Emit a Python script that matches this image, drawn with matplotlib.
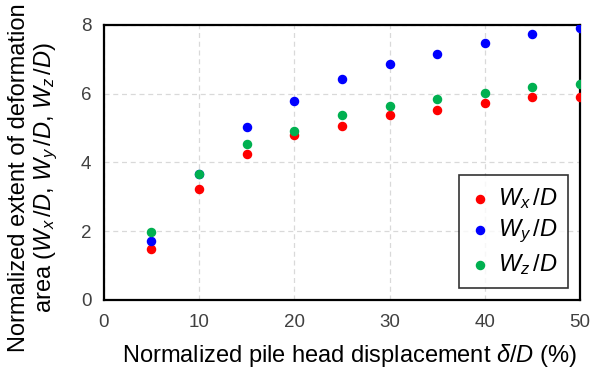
import matplotlib
matplotlib.use('Agg')
import matplotlib.pyplot as plt

plt.rcParams['font.family'] = ['Liberation Sans', 'DejaVu Sans']
plt.rcParams['mathtext.fontset'] = 'custom'
plt.rcParams['mathtext.rm'] = 'Liberation Sans'
plt.rcParams['mathtext.it'] = 'Liberation Sans:italic'

# данные
disp = [5, 10, 15, 20, 25, 30, 35, 40, 45, 50]
wx = [1.47, 3.22, 4.25, 4.80, 5.07, 5.37, 5.52, 5.72, 5.90, 5.90]
wy = [1.72, 3.67, 5.03, 5.78, 6.43, 6.85, 7.15, 7.48, 7.73, 7.90]
wz = [1.96, 3.67, 4.53, 4.91, 5.38, 5.63, 5.83, 6.01, 6.20, 6.28]

fig = plt.figure(figsize=(5.9, 3.72), dpi=100)
ax = fig.add_axes([0.176, 0.194, 0.807, 0.739])

ax.scatter(disp, wx, s=34, color='#FF0000', label='$W_x\\,/D$', zorder=3)
ax.scatter(disp, wy, s=34, color='#0000FF', label='$W_y\\,/D$', zorder=3)
ax.scatter(disp, wz, s=34, color='#00B050', label='$W_z\\,/D$', zorder=3)

ax.set_xlim(0, 50)
ax.set_ylim(0, 8)
ax.set_xticks(range(0, 51, 10))
ax.set_yticks(range(0, 9, 2))
ax.grid(True, color='#D9D9D9', linestyle=(0, (4, 3)), linewidth=0.9)
ax.tick_params(length=0, labelsize=13.5, labelcolor='#404040')
ax.tick_params(axis='x', pad=10)
ax.tick_params(axis='y', pad=9)
for sp in ax.spines.values():
    sp.set_linewidth(1.6)
    sp.set_color('black')

ax.set_xlabel('Normalized pile head displacement $\\delta/D$ (%)', fontsize=17)
ax.xaxis.set_label_coords(0.515, -0.155)

# подпись оси y (частично обрезана сверху, как в оригинале)
fig.text(34 / 590, 1 - 178 / 372,
         'Normalized extent of deformation\narea ($W_x\\,/D$, $W_y\\,/D$, $W_z\\,/D$)',
         rotation=90, ha='center', va='center', fontsize=17, linespacing=1.15)

leg = ax.legend(loc='lower right', fontsize=17, frameon=True, fancybox=False,
                edgecolor='black', handletextpad=0.3, handlelength=0.9,
                borderpad=0.45, labelspacing=0.3, borderaxespad=0.5)
leg.get_frame().set_linewidth(1.2)

fig.savefig('out.png', dpi=100)
